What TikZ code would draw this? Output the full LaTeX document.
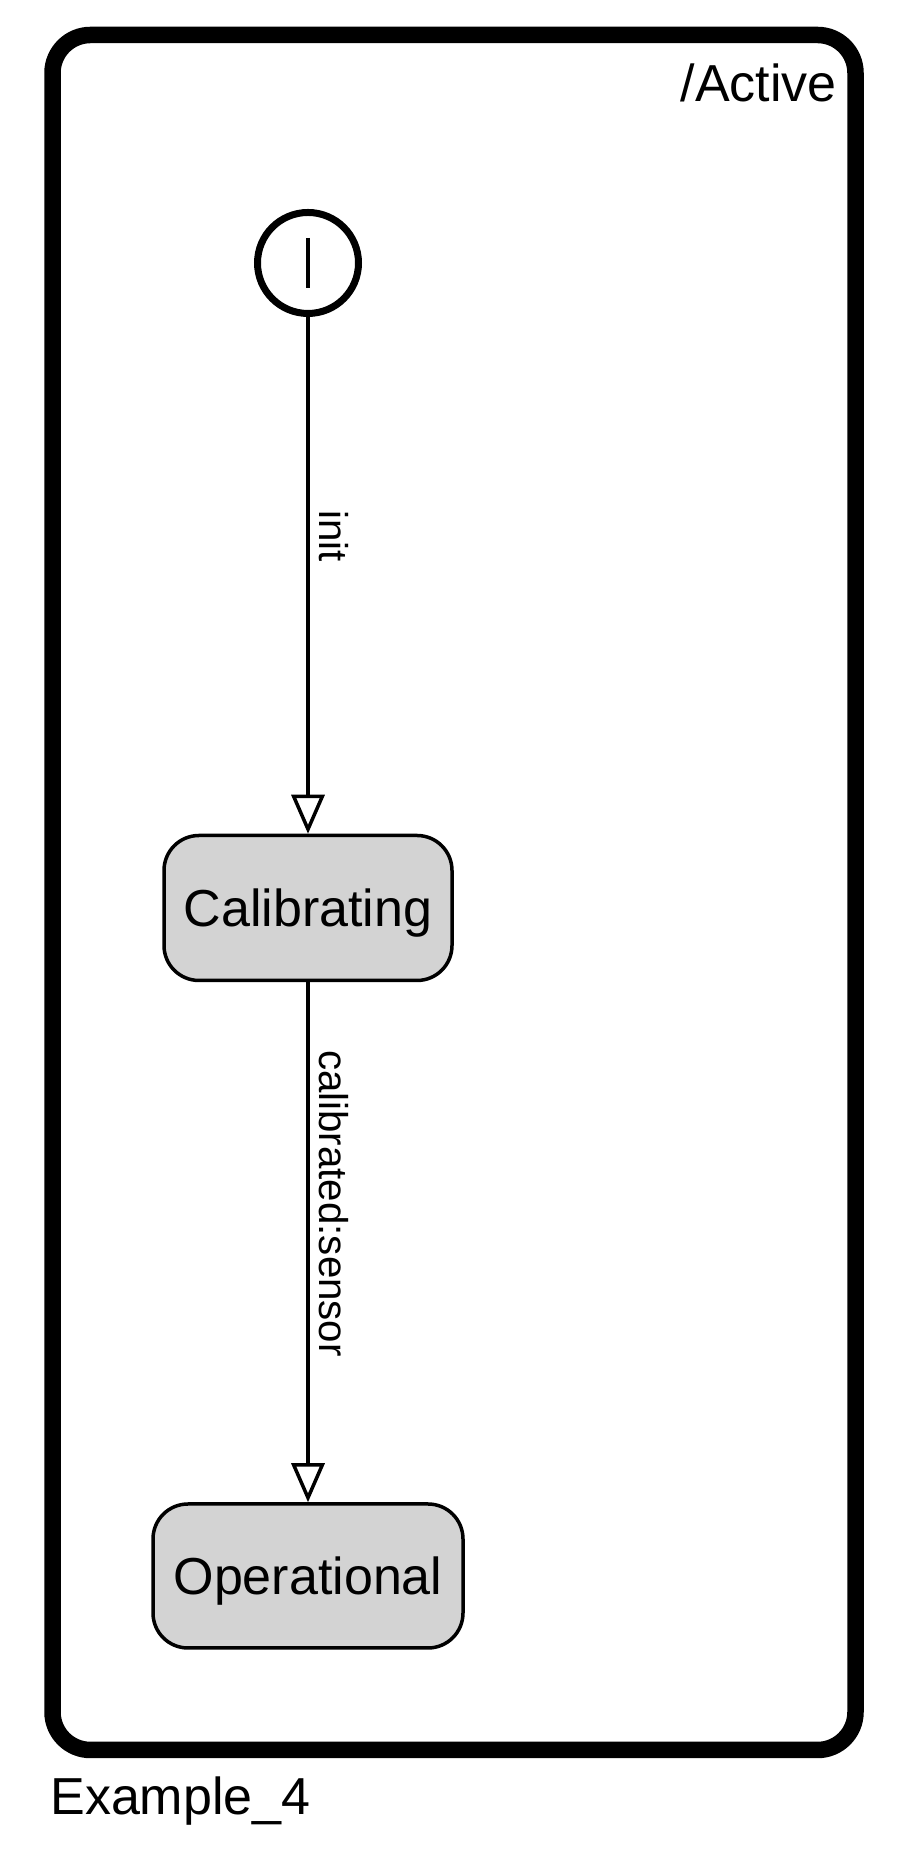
\documentclass[tikz,border=0pt]{standalone}
\usepackage{fontspec}
\setmainfont{Liberation Sans}
\usetikzlibrary{arrows.meta}
\usetikzlibrary{calc}

\definecolor{stategray}{HTML}{D3D3D3}

\tikzset{
	state/.style = {draw, line width=0.07cm, fill=stategray, rounded corners=0.7cm, inner sep=0pt,
		font=\fontsize{29.6}{31}\selectfont, text height=0.75cm, text depth=0pt},
	trans/.style = {line width=0.07cm, -{Triangle[open, length=0.78cm, width=0.66cm]}},
	translabel/.style = {rotate=-90, anchor=base, inner sep=0pt, font=\fontsize{22.9}{24}\selectfont},
	biglabel/.style = {inner sep=0pt, font=\fontsize{29.6}{31}\selectfont},
}

\begin{document}
\begin{tikzpicture}

		\useasboundingbox (0,0) rectangle (18.18,36.98);
		
		% region Active
		\draw [line width=0.33cm, rounded corners=0.76cm] (1.05,1.98) rectangle (17.11,36.28);
		\node [biglabel, anchor=base east] (activelabel) at (16.74,34.94) {/Active};
		\node [biglabel, anchor=base west] (title) at (1.0,0.68) {Example\_4};
		
		% initial state
		\node [circle, draw, line width=0.14cm, minimum size=2.02cm, inner sep=0pt] (start) at (6.16,31.72) {};
		\draw [line width=0.07cm] ($(start.center)+(0,0.5)$) -- ($(start.center)-(0,0.5)$);
		
		\node [state, minimum width=5.76cm, minimum height=2.9cm] (cal) at (6.16,18.82) {Calibrating};
		\node [state, minimum width=6.2cm, minimum height=2.88cm] (op) at (6.16,5.46) {Operational};
		
		\draw [trans] (start) -- (cal);
		\draw [trans] (cal) -- (op);
		
		\node [translabel] (initlabel) at (6.386,26.26) {init};
		\node [translabel] (callabel) at (6.386,12.91) {calibrated:sensor};
		
\end{tikzpicture}
\end{document}
